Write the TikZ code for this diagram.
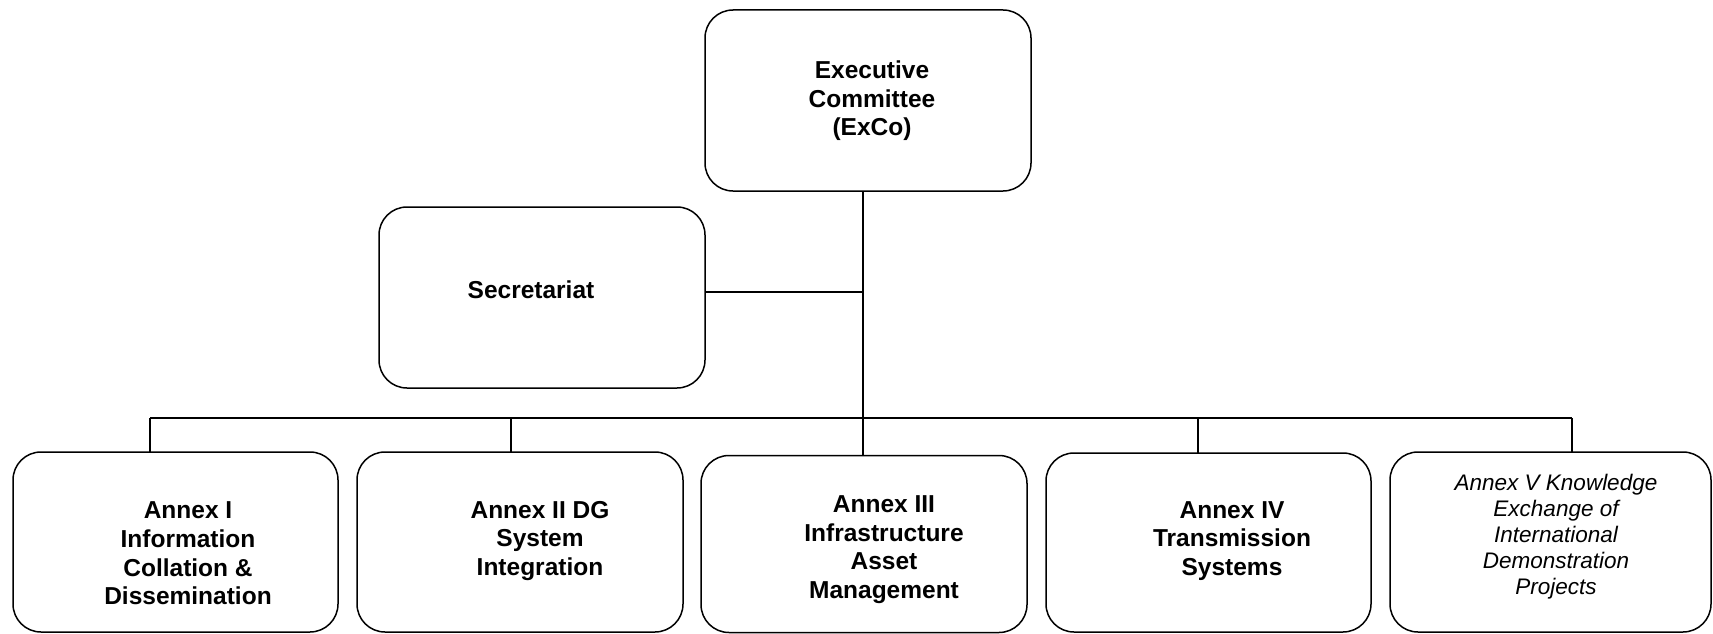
\documentclass[tikz,border=0pt]{standalone}
\usepackage{fontspec}
\setmainfont{Liberation Sans}
\begin{document}
\begin{tikzpicture}[x=1pt,y=1pt,
  orgbox/.style={draw=black, line width=1.5pt, rounded corners=28pt, inner sep=0pt, outer sep=0pt, fill=white},
  boldtxt/.style={align=center, inner sep=0pt, font=\fontsize{24.5}{28.6}\selectfont\bfseries},
  itxt/.style={align=center, inner sep=0pt, font=\fontsize{22.5}{26}\selectfont\itshape},
  link/.style={draw=black, line width=1.3pt}]
\useasboundingbox[fill=white] (0,0) rectangle (1713,-634);
% boxes
\node[orgbox, minimum width=326, minimum height=181] (exco) at (868,-100.5) {};
\node[orgbox, minimum width=326, minimum height=181] (sec) at (542,-297.5) {};
\node[orgbox, minimum width=325, minimum height=180] (a1) at (175.5,-542) {};
\node[orgbox, minimum width=326, minimum height=180] (a2) at (520,-542) {};
\node[orgbox, minimum width=326, minimum height=177] (a3) at (864,-544) {};
\node[orgbox, minimum width=325, minimum height=179] (a4) at (1208.5,-542.5) {};
\node[orgbox, minimum width=321, minimum height=180] (a5) at (1550.5,-542) {};
% texts
\node[boldtxt] (texco) at (872,-101) {Executive\\Committee\\(ExCo)};
\node[boldtxt] (tsec) at (531,-290) {Secretariat};
\node[boldtxt] (ta1) at (188,-553.5) {Annex I\\Information\\Collation \&\\Dissemination};
\node[boldtxt] (ta2) at (540,-541) {Annex II DG\\System\\Integration};
\node[boldtxt] (ta3) at (884,-549.5) {Annex III\\Infrastructure\\Asset\\Management};
\node[boldtxt] (ta4) at (1232,-541) {Annex IV\\Transmission\\Systems};
\node[itxt] (ta5) at (1556,-537) {Annex V Knowledge\\Exchange of\\International\\Demonstration\\Projects};
% connector points
\coordinate (d1) at (150,-418);
\coordinate (d2) at (511,-418);
\coordinate (d3) at (863,-418);
\coordinate (d4) at (1198,-418);
\coordinate (d5) at (1572,-418);
\coordinate (sj) at (863,-292);
% connectors
\draw[link] (d3 |- exco.south) -- (d3 |- a3.north);
\draw[link] (sec.east |- sj) -- (sj);
\draw[link] (d1) -- (d5);
\draw[link] (d1) -- (d1 |- a1.north);
\draw[link] (d2) -- (d2 |- a2.north);
\draw[link] (d4) -- (d4 |- a4.north);
\draw[link] (d5) -- (d5 |- a5.north);
\end{tikzpicture}
\end{document}
